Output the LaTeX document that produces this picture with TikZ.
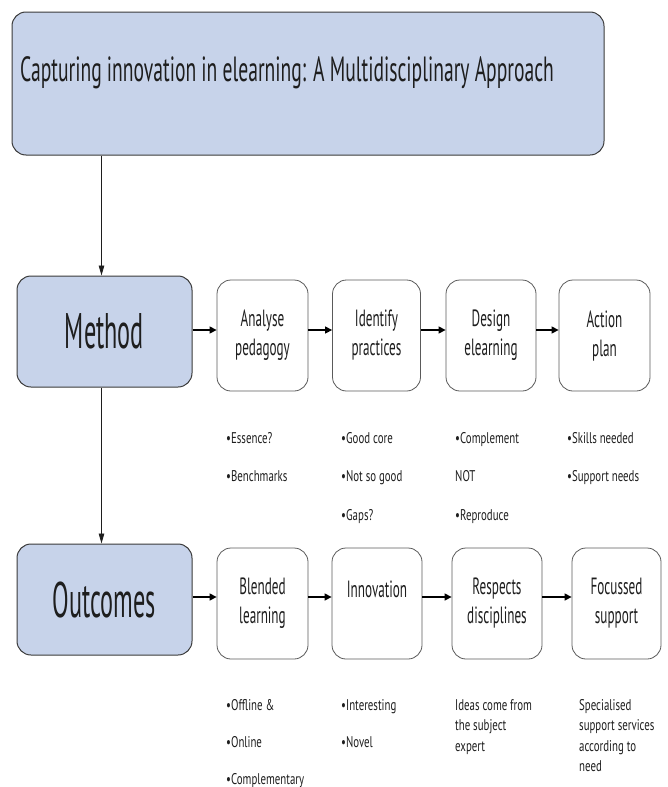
\documentclass[tikz,border=0pt]{standalone}
\usepackage{fontspec}
\setmainfont{PT Sans}[FakeStretch=0.56]
\newfontfamily\bigfont{PT Sans}[FakeStretch=0.485]
\newfontfamily\notefont{PT Sans}[FakeStretch=0.70]
\usetikzlibrary{arrows.meta}
\definecolor{boxblue}{HTML}{C7D3EA}
\definecolor{edgedark}{HTML}{3A3A3A}
\definecolor{edgegray}{HTML}{5A5A5A}
\definecolor{inkgray}{HTML}{1E1E1E}
\begin{document}
\begin{tikzpicture}[x=1pt,y=-1pt,
  bigbox/.style={draw=edgedark, line width=1pt, fill=boxblue, rounded corners=14pt, inner sep=0pt, text=inkgray},
  smallbox/.style={draw=edgegray, line width=0.8pt, fill=white, rounded corners=14pt,
    minimum height=111pt, inner sep=0pt, align=center, text=inkgray,
    font=\fontsize{23.5}{29}\selectfont},
  flow/.style={-{Triangle[length=7pt,width=7pt]}, line width=1.4pt, draw=black},
  down/.style={-{Triangle[length=10pt,width=5.5pt]}, line width=0.9pt, draw=inkgray},
  note/.style={anchor=north west, inner sep=0pt, align=left, text=inkgray,
    font=\notefont\fontsize{15.5}{38.5}\selectfont},
  notelow/.style={note, font=\notefont\fontsize{15.5}{37}\selectfont},
  para/.style={anchor=north west, inner sep=0pt, align=left, text=inkgray,
    font=\notefont\fontsize{15.5}{20.5}\selectfont}
]
\useasboundingbox (0,0) rectangle (668,787);

% title
\node[bigbox, minimum width=592pt, minimum height=143pt] (title) at (308,83.5) {};
\node[anchor=base west, inner sep=0pt, text=inkgray, font=\fontsize{35}{40}\selectfont] (titletext) at (20,81.5)
  {Capturing innovation in elearning: A Multidisciplinary Approach};

% method row
\node[bigbox, minimum width=175pt, minimum height=111pt, font=\bigfont\fontsize{50}{52}\selectfont] (method) at (104.5,331.5) {Method};
\node[smallbox, minimum width=91pt] (analyse) at (262.5,335.5) {Analyse\\pedagogy};
\node[smallbox, minimum width=88pt] (identify) at (376.5,335.5) {Identify\\practices};
\node[smallbox, minimum width=90pt] (design) at (491,335.5) {Design\\elearning};
\node[smallbox, minimum width=91pt] (action) at (604.5,335.5) {Action\\plan};

\draw[flow] ([yshift=1.5pt]method.east) -- ([yshift=1.5pt]method.east -| analyse.west);
\draw[flow] ([yshift=5.5pt]analyse.east) -- ([yshift=5.5pt]identify.west);
\draw[flow] ([yshift=5.5pt]identify.east) -- ([yshift=5.5pt]design.west);
\draw[flow] ([yshift=5.5pt]design.east) -- ([yshift=5.5pt]action.west);

\node[note] (n1) at (226,432) {•Essence?\\•Benchmarks};
\node[note] (n2) at (341,432) {•Good core\\•Not so good\\•Gaps?};
\node[note] (n3) at (455,432) {•Complement\\NOT\\•Reproduce};
\node[note] (n4) at (567,432) {•Skills needed\\•Support needs};

% outcomes row
\node[bigbox, minimum width=175pt, minimum height=111pt, font=\bigfont\fontsize{50}{52}\selectfont] (outcomes) at (104.5,599.5) {Outcomes};
\node[smallbox, minimum width=91pt] (blended) at (262.5,603.5) {Blended\\learning};
\node[smallbox, minimum width=90pt] (innovation) at (377,603.5) {Innovation\\\phantom{x}};
\node[smallbox, minimum width=90pt] (respects) at (497,603.5) {Respects\\disciplines};
\node[smallbox, minimum width=89pt] (focussed) at (616.5,603.5) {Focussed\\support};

\draw[flow] ([yshift=2.5pt]outcomes.east) -- ([yshift=2.5pt]outcomes.east -| blended.west);
\draw[flow] ([yshift=6.5pt]blended.east) -- ([yshift=6.5pt]innovation.west);
\draw[flow] ([yshift=6.5pt]innovation.east) -- ([yshift=6.5pt]respects.west);
\draw[flow] ([yshift=6.5pt]respects.east) -- ([yshift=6.5pt]focussed.west);

\node[notelow] (m1) at (226,699) {•Offline \&\\•Online\\•Complementary};
\node[notelow] (m2) at (341,699) {•Interesting\\•Novel};
\node[para] (m3) at (455,699) {Ideas come from\\the subject\\expert};
\node[para] (m4) at (579,699) {Specialised\\support services\\according to\\need};

% vertical connectors
\draw[down] ([xshift=-3pt]method.north |- title.south) -- ([xshift=-3pt]method.north);
\draw[down] ([xshift=-3pt]method.south) -- ([xshift=-3pt]outcomes.north);
\end{tikzpicture}
\end{document}
